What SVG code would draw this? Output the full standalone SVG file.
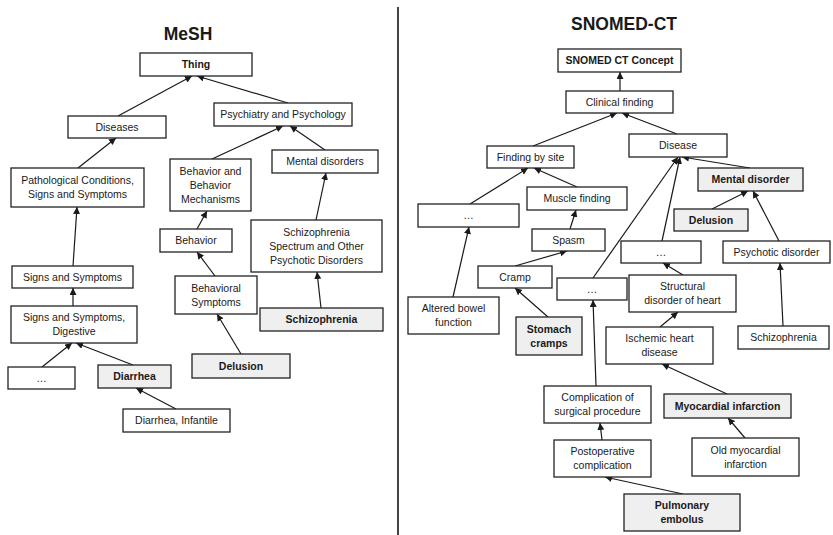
<svg xmlns="http://www.w3.org/2000/svg" width="833" height="535" viewBox="0 0 833 535">
  <style>
    .box { fill: #ffffff; stroke: #222222; stroke-width: 1.3; }
    .hl { fill: #efefef; }
    .lbl { font-family: "Liberation Sans", Arial, sans-serif; font-size: 10.5px; fill: #1a1a1a; text-anchor: middle; }
    .b { font-weight: bold; }
    .title { font-family: "Liberation Sans", Arial, sans-serif; font-size: 17.5px; font-weight: bold; fill: #1a1a1a; text-anchor: middle; }
    .edge { stroke: #1a1a1a; stroke-width: 1.2; fill: none; marker-end: url(#arrow); }
  </style>
  <defs>
    <marker id="arrow" markerUnits="userSpaceOnUse" markerWidth="8" markerHeight="8" refX="7" refY="3.5" orient="auto">
      <path d="M0,0 L7,3.5 L0,7 Z" fill="#1a1a1a"/>
    </marker>
  </defs>

  <rect width="833" height="535" fill="#ffffff"/>

  <!-- panel titles and divider -->
  <text class="title" x="188" y="40">MeSH</text>
  <text class="title" x="624" y="30">SNOMED-CT</text>
  <line x1="398" y1="7" x2="398" y2="535" stroke="#444444" stroke-width="2"/>

  <!-- connectors -->
  <g id="connectors">
    <!-- MeSH -->
    <line class="edge" x1="118" y1="116" x2="192" y2="76"/>
    <line class="edge" x1="288" y1="103" x2="197" y2="76"/>
    <line class="edge" x1="78" y1="168" x2="116" y2="138"/>
    <line class="edge" x1="212" y1="159" x2="283" y2="126"/>
    <line class="edge" x1="325" y1="150" x2="290" y2="126"/>
    <line class="edge" x1="316" y1="220" x2="326" y2="173"/>
    <line class="edge" x1="197" y1="229" x2="207" y2="211"/>
    <line class="edge" x1="215" y1="276" x2="197" y2="252"/>
    <line class="edge" x1="73" y1="266" x2="77" y2="207"/>
    <line class="edge" x1="73" y1="306" x2="73" y2="288"/>
    <line class="edge" x1="42" y1="367" x2="72" y2="343"/>
    <line class="edge" x1="133" y1="365" x2="76" y2="343"/>
    <line class="edge" x1="176" y1="409" x2="136" y2="388"/>
    <line class="edge" x1="241" y1="354" x2="217" y2="314"/>
    <line class="edge" x1="321" y1="308" x2="317" y2="272"/>
    <!-- SNOMED-CT -->
    <line class="edge" x1="620" y1="91" x2="620" y2="72"/>
    <line class="edge" x1="533" y1="146" x2="617" y2="113"/>
    <line class="edge" x1="677" y1="134" x2="622" y2="113"/>
    <line class="edge" x1="470" y1="204" x2="528" y2="168"/>
    <line class="edge" x1="577" y1="187" x2="534" y2="168"/>
    <line class="edge" x1="570" y1="229" x2="576" y2="210"/>
    <line class="edge" x1="515" y1="266" x2="567" y2="251"/>
    <line class="edge" x1="453" y1="297" x2="469" y2="227"/>
    <line class="edge" x1="548" y1="317" x2="515" y2="288"/>
    <line class="edge" x1="593" y1="278" x2="678" y2="157"/>
    <line class="edge" x1="662" y1="241" x2="680" y2="157"/>
    <line class="edge" x1="750" y1="168" x2="682" y2="157"/>
    <line class="edge" x1="712" y1="209" x2="748" y2="191"/>
    <line class="edge" x1="779" y1="241" x2="753" y2="191"/>
    <line class="edge" x1="683" y1="275" x2="663" y2="263"/>
    <line class="edge" x1="783" y1="326" x2="780" y2="263"/>
    <line class="edge" x1="660" y1="327" x2="678" y2="312"/>
    <line class="edge" x1="596" y1="386" x2="593" y2="300"/>
    <line class="edge" x1="727" y1="394" x2="662" y2="364"/>
    <line class="edge" x1="602" y1="440" x2="600" y2="423"/>
    <line class="edge" x1="745" y1="438" x2="728" y2="418"/>
    <line class="edge" x1="683" y1="494" x2="605" y2="477"/>
  </g>

  <!-- MeSH nodes -->
  <g id="mesh-thing"><rect class="box" x="140" y="53" width="112" height="23"/><text class="lbl b" x="196" y="68">Thing</text></g>
  <g id="mesh-diseases"><rect class="box" x="68" y="116" width="98" height="22"/><text class="lbl" x="117" y="130.5">Diseases</text></g>
  <g id="mesh-psychiatry"><rect class="box" x="214" y="103" width="138" height="23"/><text class="lbl" x="283" y="118">Psychiatry and Psychology</text></g>
  <g id="mesh-pathological"><rect class="box" x="11" y="168" width="133" height="39"/><text class="lbl" x="77.5" y="184">Pathological Conditions,<tspan x="77.5" dy="14">Signs and Symptoms</tspan></text></g>
  <g id="mesh-behavior-mechanisms"><rect class="box" x="170" y="159" width="81" height="52"/><text class="lbl" x="210.5" y="174.5">Behavior and<tspan x="210.5" dy="14">Behavior</tspan><tspan x="210.5" dy="14">Mechanisms</tspan></text></g>
  <g id="mesh-mental-disorders"><rect class="box" x="272" y="150" width="106" height="23"/><text class="lbl" x="325" y="165">Mental disorders</text></g>
  <g id="mesh-behavior"><rect class="box" x="160" y="229" width="72" height="23"/><text class="lbl" x="196" y="244">Behavior</text></g>
  <g id="mesh-schizo-spectrum"><rect class="box" x="251" y="220" width="131" height="52"/><text class="lbl" x="316.5" y="235.5">Schizophrenia<tspan x="316.5" dy="14">Spectrum and Other</tspan><tspan x="316.5" dy="14">Psychotic Disorders</tspan></text></g>
  <g id="mesh-signs"><rect class="box" x="12" y="266" width="121" height="22"/><text class="lbl" x="72.5" y="280.5">Signs and Symptoms</text></g>
  <g id="mesh-signs-digestive"><rect class="box" x="11" y="306" width="126" height="37"/><text class="lbl" x="74" y="321">Signs and Symptoms,<tspan x="74" dy="14">Digestive</tspan></text></g>
  <g id="mesh-more"><rect class="box" x="8" y="367" width="67" height="22"/><text class="lbl" x="41.5" y="381.5">…</text></g>
  <g id="mesh-diarrhea"><rect class="box hl" x="98" y="365" width="73" height="23"/><text class="lbl b" x="134.5" y="380">Diarrhea</text></g>
  <g id="mesh-diarrhea-infantile"><rect class="box" x="123" y="409" width="107" height="23"/><text class="lbl" x="176.5" y="424">Diarrhea, Infantile</text></g>
  <g id="mesh-behavioral-symptoms"><rect class="box" x="175" y="276" width="82" height="38"/><text class="lbl" x="216" y="291.5">Behavioral<tspan x="216" dy="14">Symptoms</tspan></text></g>
  <g id="mesh-schizophrenia"><rect class="box hl" x="260" y="308" width="123" height="23"/><text class="lbl b" x="321.5" y="323">Schizophrenia</text></g>
  <g id="mesh-delusion"><rect class="box hl" x="192" y="354" width="98" height="24"/><text class="lbl b" x="241" y="369.5">Delusion</text></g>

  <!-- SNOMED-CT nodes -->
  <g id="sct-concept"><rect class="box" x="558" y="49" width="123" height="23"/><text class="lbl b" x="619.5" y="64">SNOMED CT Concept</text></g>
  <g id="sct-clinical-finding"><rect class="box" x="566" y="91" width="107" height="22"/><text class="lbl" x="619.5" y="105.5">Clinical finding</text></g>
  <g id="sct-disease"><rect class="box" x="629" y="134" width="98" height="23"/><text class="lbl" x="678" y="149">Disease</text></g>
  <g id="sct-finding-by-site"><rect class="box" x="487" y="146" width="87" height="22"/><text class="lbl" x="530.5" y="160.5">Finding by site</text></g>
  <g id="sct-mental-disorder"><rect class="box hl" x="698" y="168" width="105" height="23"/><text class="lbl b" x="750.5" y="183">Mental disorder</text></g>
  <g id="sct-muscle-finding"><rect class="box" x="527" y="187" width="100" height="23"/><text class="lbl" x="577" y="202">Muscle finding</text></g>
  <g id="sct-more-site"><rect class="box" x="418" y="204" width="101" height="23"/><text class="lbl" x="468.5" y="219">…</text></g>
  <g id="sct-delusion"><rect class="box hl" x="674" y="209" width="74" height="22"/><text class="lbl b" x="711" y="223.5">Delusion</text></g>
  <g id="sct-spasm"><rect class="box" x="532" y="229" width="73" height="22"/><text class="lbl" x="568.5" y="243.5">Spasm</text></g>
  <g id="sct-more-disease"><rect class="box" x="621" y="241" width="80" height="22"/><text class="lbl" x="661" y="255.5">…</text></g>
  <g id="sct-psychotic-disorder"><rect class="box" x="723" y="241" width="107" height="22"/><text class="lbl" x="776.5" y="255.5">Psychotic disorder</text></g>
  <g id="sct-cramp"><rect class="box" x="478" y="266" width="74" height="22"/><text class="lbl" x="515" y="280.5">Cramp</text></g>
  <g id="sct-more-complication"><rect class="box" x="557" y="278" width="70" height="22"/><text class="lbl" x="592" y="292.5">…</text></g>
  <g id="sct-structural-heart"><rect class="box" x="629" y="275" width="107" height="37"/><text class="lbl" x="682.5" y="290">Structural<tspan x="682.5" dy="14">disorder of heart</tspan></text></g>
  <g id="sct-altered-bowel"><rect class="box" x="408" y="297" width="91" height="37"/><text class="lbl" x="453.5" y="312">Altered bowel<tspan x="453.5" dy="14">function</tspan></text></g>
  <g id="sct-stomach-cramps"><rect class="box hl" x="516" y="317" width="66" height="38"/><text class="lbl b" x="549" y="332.5">Stomach<tspan x="549" dy="14">cramps</tspan></text></g>
  <g id="sct-ischemic-heart"><rect class="box" x="606" y="327" width="107" height="37"/><text class="lbl" x="659.5" y="342">Ischemic heart<tspan x="659.5" dy="14">disease</tspan></text></g>
  <g id="sct-schizophrenia"><rect class="box" x="738" y="326" width="91" height="23"/><text class="lbl" x="783.5" y="341">Schizophrenia</text></g>
  <g id="sct-complication-surgical"><rect class="box" x="544" y="386" width="107" height="37"/><text class="lbl" x="597.5" y="401">Complication of<tspan x="597.5" dy="14">surgical procedure</tspan></text></g>
  <g id="sct-myocardial-infarction"><rect class="box hl" x="664" y="394" width="127" height="24"/><text class="lbl b" x="727.5" y="409.5">Myocardial infarction</text></g>
  <g id="sct-postoperative"><rect class="box" x="554" y="440" width="97" height="37"/><text class="lbl" x="602.5" y="455">Postoperative<tspan x="602.5" dy="14">complication</tspan></text></g>
  <g id="sct-old-mi"><rect class="box" x="692" y="438" width="107" height="38"/><text class="lbl" x="745.5" y="453.5">Old myocardial<tspan x="745.5" dy="14">infarction</tspan></text></g>
  <g id="sct-pulmonary-embolus"><rect class="box hl" x="624" y="494" width="116" height="37"/><text class="lbl b" x="682" y="509">Pulmonary<tspan x="682" dy="14">embolus</tspan></text></g>
</svg>
